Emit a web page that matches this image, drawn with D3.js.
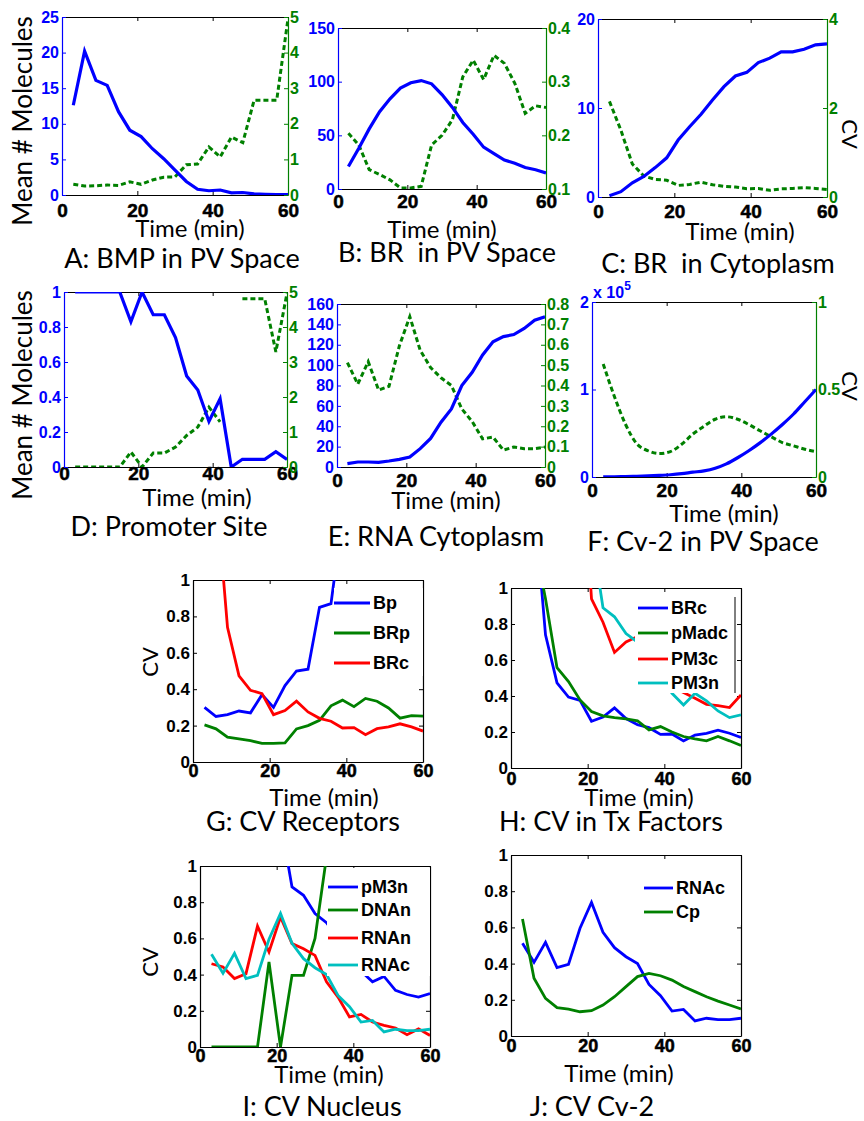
<!DOCTYPE html>
<html><head><meta charset="utf-8">
<script src="https://cdn.jsdelivr.net/npm/d3@7/dist/d3.min.js"></script>
<style>body{margin:0;background:#fff}text{white-space:pre}</style>
</head><body>
<svg id="fig" width="864" height="1121"></svg>
<script>
// ---------------- data ----------------
const time = [3,6,9,12,15,18,21,24,27,30,33,36,39,42,45,48,51,54,57,60];
const xTicks = [0,20,40,60];

// A: BMP in PV space
const bmpMean = [12.6,20.2,16.1,15.4,11.7,9.1,8.2,6.5,5.1,3.5,1.9,0.8,0.6,0.7,0.3,0.35,0.15,0.1,0.07,0.05];
const bpCV    = [0.3,0.25,0.26,0.28,0.27,0.37,0.3,0.42,0.5,0.51,0.85,0.87,1.35,1.07,1.63,1.47,2.66,2.66,2.66,4.95];
const bmpMeanTicks = [0,5,10,15,20,25];
const bmpCVTicks = [0,1,2,3,4,5];
// B: BR in PV space
const brpMean = [21,38,56,72,84,94,99,101,98,88,76,62,51,39,33,27,24,20,18,15];
const brpCV   = [0.204,0.182,0.136,0.127,0.117,0.102,0.102,0.105,0.182,0.2,0.229,0.309,0.34,0.304,0.349,0.334,0.297,0.241,0.255,0.252];
const brpMeanTicks = [0,50,100,150];
const brpCVTicks = [0.1,0.2,0.3,0.4];
// C: BR in cytoplasm
const brcMean = [0.15,0.6,1.6,2.3,3.3,4.4,6.4,7.9,9.3,10.9,12.4,13.6,14.0,15.1,15.6,16.3,16.3,16.6,17.1,17.2];
const brcCV   = [2.15,1.5,0.74,0.473,0.394,0.376,0.26,0.283,0.334,0.275,0.24,0.224,0.187,0.189,0.15,0.183,0.193,0.21,0.193,0.17];
const brcMeanTicks = [0,10,20];
const brcCVTicks = [0,2,4];
// D: promoter site
const promMean = [1,1,1,1,1,0.83,1,0.87,0.87,0.74,0.52,0.44,0.26,0.39,0,0.044,0.044,0.044,0.087,0.043];
const promCV   = [0,0,0,0,0,0.43,0,0.4,0.4,0.57,0.9,1.14,1.71,1.29,null,4.81,4.81,4.81,3.29,4.97];
const promMeanTicks = [0,0.2,0.4,0.6,0.8,1];
const promCVTicks = [0,1,2,3,4,5];
// E: RNA cytoplasm
const rnacMean = [3.3,4.9,4.9,4.6,5.9,7.5,9.8,18,28,44,57,80,93,110,123,128,130,136,144,147.5];
const rnacCV   = [0.512,0.407,0.517,0.378,0.396,0.595,0.738,0.573,0.488,0.438,0.4,0.285,0.223,0.138,0.147,0.083,0.098,0.09,0.09,0.098];
const rnacMeanTicks = [0,20,40,60,80,100,120,140,160];
const rnacCVTicks = [0,0.1,0.2,0.3,0.4,0.5,0.6,0.7,0.8];
// F: Cv-2 in PV space (mean in units of 1e5)
const cv2Mean = [0.002,0.003,0.005,0.008,0.012,0.018,0.026,0.038,0.055,0.07,0.1,0.15,0.22,0.3,0.39,0.49,0.6,0.72,0.86,1.0];
const cv2CVsmooth = [0.646,0.46,0.3,0.19,0.15,0.134,0.145,0.187,0.245,0.29,0.33,0.344,0.33,0.3,0.264,0.23,0.197,0.178,0.159,0.145];
const cv2MeanTicks = [0,1,2];
const cv2CVTicks = [0,0.5,1];
// CV panels
const cvTicks = [0,0.2,0.4,0.6,0.8,1];
const pMadcCV = [2.0,1.27,0.94,0.557,0.48,0.378,0.314,0.29,0.28,0.273,0.262,0.212,0.23,0.2,0.175,0.162,0.151,0.175,0.151,0.125];
const pm3cCV  = [null,null,null,null,null,1.93,0.94,0.81,0.642,0.7,0.73,0.6,0.5,0.45,0.42,0.387,0.354,0.347,0.336,0.406];
const pm3nCV  = [null,null,null,null,null,null,1.31,0.89,0.84,0.747,0.7,0.62,0.52,0.415,0.35,0.415,0.373,0.317,0.28,0.295];
const pM3nNucCV = [null,null,null,null,null,null,1.25,0.884,0.838,0.737,0.687,0.6,0.5,0.42,0.36,0.39,0.313,0.29,0.276,0.295];
const dnanCV  = [0,0,0,0,0,0.47,0,0.396,0.396,0.6,1.05,null,null,null,null,null,null,null,null,null];
const rnanCV  = [0.46,0.442,0.378,0.405,0.668,0.525,0.718,0.571,0.543,0.506,0.36,0.276,0.166,0.18,0.138,0.12,0.105,0.068,0.1,0.064];
const cpCV    = [0.646,0.319,0.208,0.157,0.149,0.134,0.14,0.171,0.217,0.273,0.328,0.346,0.333,0.309,0.273,0.245,0.217,0.193,0.171,0.149];
const legendG = ['Bp','BRp','BRc'];
const legendH = ['BRc','pMadc','PM3c','PM3n'];
const legendI = ['pM3n','DNAn','RNAn','RNAc'];
const legendJ = ['RNAc','Cp'];

// ---------------- drawing ----------------
const svg = d3.select('#fig');
const LBL = "Lato, 'Open Sans', sans-serif";
const TK = "'Liberation Sans', Arial, sans-serif";
const BLUE = '#0000ff', GREEN = '#008000', RED = '#ff0000', CYAN = '#00bfbf';
const fmt = d => String(d);

function txt(parent, x, y, s, o) {
  const t = parent.append('text').attr('x', x).attr('y', y).text(s)
    .attr('font-family', o.family || LBL).attr('font-size', o.size)
    .attr('font-weight', o.weight || 'normal').attr('fill', o.fill || '#000')
    .attr('text-anchor', o.anchor || 'middle');
  if (o.rotate) t.attr('transform', `rotate(${o.rotate},${x},${y})`);
  return t;
}

function styleAxis(ag, color, size, heavy) {
  ag.attr('color', color).attr('font-family', TK).attr('font-size', size).attr('font-weight', 'bold');
  ag.selectAll('text').attr('fill', color);
  if (heavy) ag.selectAll('text').attr('stroke', color).attr('stroke-width', 0.5);
  ag.selectAll('.tick line').attr('stroke-width', 1);
  ag.select('.domain').attr('stroke-width', 1.2);
}

function frameAxes(g, p, x, yl, lColor, lTicks, lSize, xSize) {
  const top = g.append('g').attr('transform', `translate(0,${p.y0})`)
    .call(d3.axisTop(x).tickValues(xTicks).tickSizeInner(-4).tickSizeOuter(0).tickFormat(''));
  styleAxis(top, '#000', 10);
  const bot = g.append('g').attr('transform', `translate(0,${p.y1})`)
    .call(d3.axisBottom(x).tickValues(xTicks).tickSizeInner(-4).tickSizeOuter(0).tickFormat(fmt));
  styleAxis(bot, '#000', xSize, true);
  bot.selectAll('text').attr('dy', null).attr('y', p.xtb - p.y1);
  const left = g.append('g').attr('transform', `translate(${p.x0},0)`)
    .call(d3.axisLeft(yl).tickValues(lTicks).tickSizeInner(-4).tickSizeOuter(0).tickPadding(3).tickFormat(fmt));
  styleAxis(left, lColor, lSize);
  return {top, bot, left};
}

function common(g, p) {
  txt(g, p.timeX, p.timeY, 'Time (min)', {size: 24});
  txt(g, p.titleX, p.titleY, p.title, {size: 27});
}

function clip(p) {
  const id = 'clip-' + p.key;
  svg.append('clipPath').attr('id', id).append('rect')
    .attr('x', p.x0).attr('y', p.y0).attr('width', p.x1 - p.x0).attr('height', p.y1 - p.y0);
  return `url(#${id})`;
}

function dualPanel(p) {
  const g = svg.append('g');
  const x = d3.scaleLinear().domain([0, 60]).range([p.x0, p.x1]);
  const yl = d3.scaleLinear().domain([p.lTicks[0], p.lTicks[p.lTicks.length - 1]]).range([p.y1, p.y0]);
  const yr = d3.scaleLinear().domain([p.rTicks[0], p.rTicks[p.rTicks.length - 1]]).range([p.y1, p.y0]);
  frameAxes(g, p, x, yl, BLUE, p.lTicks, 16, 19);
  const right = g.append('g').attr('transform', `translate(${p.x1},0)`)
    .call(d3.axisRight(yr).tickValues(p.rTicks).tickSizeInner(-4).tickSizeOuter(0).tickPadding(2).tickFormat(fmt));
  styleAxis(right, GREEN, 16);
  const cp = clip(p);
  const curve = p.smooth ? d3.curveMonotoneX : d3.curveLinear;
  const mk = ys => d3.line().defined(d => d[1] != null).x(d => x(d[0])).y(d => ys(d[1])).curve(curve);
  const pts = arr => time.map((t, i) => [t, arr[i]]);
  g.append('path').datum(pts(p.cv)).attr('d', mk(yr)).attr('fill', 'none')
    .attr('stroke', GREEN).attr('stroke-width', 3).attr('stroke-dasharray', '5,3').attr('clip-path', cp);
  g.append('path').datum(pts(p.mean)).attr('d', mk(yl)).attr('fill', 'none')
    .attr('stroke', BLUE).attr('stroke-width', 3.2).attr('clip-path', cp);
  common(g, p);
  if (p.ylab) txt(g, 32, p.ylabY, 'Mean # Molecules', {size: 26, rotate: -90});
  if (p.cvLab) txt(g, p.cvLab.x, p.cvLab.y, 'CV', {size: 22, rotate: 90});
  if (p.exp) {
    const e = txt(g, p.x0 + 1, p.y0 - 4, 'x 10', {size: 16, weight: 'bold', fill: BLUE, family: TK, anchor: 'start'});
    e.append('tspan').attr('dy', -8).attr('font-size', 12).text('5');
  }
}

function cvPanel(p) {
  const g = svg.append('g');
  const x = d3.scaleLinear().domain([0, 60]).range([p.x0, p.x1]);
  const y = d3.scaleLinear().domain([0, 1]).range([p.y1, p.y0]);
  frameAxes(g, p, x, y, '#000', cvTicks, 17, 18);
  const right = g.append('g').attr('transform', `translate(${p.x1},0)`)
    .call(d3.axisRight(y).tickValues(cvTicks).tickSizeInner(-4).tickSizeOuter(0).tickFormat(''));
  styleAxis(right, '#000', 10);
  const cp = clip(p);
  const line = d3.line().defined(d => d[1] != null).x(d => x(d[0])).y(d => y(d[1]));
  p.series.forEach(s => {
    g.append('path').datum(time.map((t, i) => [t, s.v[i]])).attr('d', line).attr('fill', 'none')
      .attr('stroke', s.c).attr('stroke-width', 2.8).attr('clip-path', cp);
  });
  const L = p.legend;
  g.append('rect').attr('x', L.bx0).attr('y', L.by0).attr('width', L.bx1 - L.bx0).attr('height', L.by1 - L.by0).attr('fill', '#fff');
  if (L.border) g.append('line').attr('x1', L.bx1).attr('x2', L.bx1).attr('y1', L.by0 + 5).attr('y2', L.by1).attr('stroke', '#000').attr('stroke-width', 1);
  p.series.forEach((s, i) => {
    g.append('line').attr('x1', L.lx0).attr('x2', L.lx1).attr('y1', L.ys[i]).attr('y2', L.ys[i])
      .attr('stroke', s.c).attr('stroke-width', 2.8);
    txt(g, L.tx, L.ys[i], p.names[i], {size: 18, weight: 'bold', family: TK, anchor: 'start'}).attr('dy', '0.36em');
  });
  common(g, p);
  if (p.cvLab) txt(g, p.cvLab.x, p.cvLab.y, 'CV', {size: 22, rotate: -90});
}

dualPanel({key: 'A', x0: 62, x1: 288, y0: 17, y1: 195, mean: bmpMean, cv: bpCV, lTicks: bmpMeanTicks, rTicks: bmpCVTicks,
  xtb: 217, timeX: 190, timeY: 237, title: 'A: BMP in PV Space', titleX: 182, titleY: 268, ylab: true, ylabY: 121});
dualPanel({key: 'B', x0: 338, x1: 546, y0: 28, y1: 189, mean: brpMean, cv: brpCV, lTicks: brpMeanTicks, rTicks: brpCVTicks,
  xtb: 208, timeX: 442, timeY: 238, title: 'B: BR  in PV Space', titleX: 447, titleY: 262});
dualPanel({key: 'C', x0: 598, x1: 827, y0: 19, y1: 197, mean: brcMean, cv: brcCV, lTicks: brcMeanTicks, rTicks: brcCVTicks,
  xtb: 218, timeX: 740, timeY: 240, title: 'C: BR  in Cytoplasm', titleX: 718, titleY: 273, cvLab: {x: 842, y: 134}});
dualPanel({key: 'D', x0: 64, x1: 287, y0: 292, y1: 467, mean: promMean, cv: promCV, lTicks: promMeanTicks, rTicks: promCVTicks,
  xtb: 480, timeX: 197, timeY: 506, title: 'D: Promoter Site', titleX: 169, titleY: 536, ylab: true, ylabY: 395});
dualPanel({key: 'E', x0: 337, x1: 545, y0: 304, y1: 467, mean: rnacMean, cv: rnacCV, lTicks: rnacMeanTicks, rTicks: rnacCVTicks,
  xtb: 487, timeX: 446, timeY: 509, title: 'E: RNA Cytoplasm', titleX: 436, titleY: 546});
dualPanel({key: 'F', x0: 592, x1: 816, y0: 302, y1: 477, mean: cv2Mean, cv: cv2CVsmooth, lTicks: cv2MeanTicks, rTicks: cv2CVTicks,
  xtb: 497, timeX: 724, timeY: 522, title: 'F: Cv-2 in PV Space', titleX: 703, titleY: 551, cvLab: {x: 842, y: 386}, exp: true, smooth: true});

cvPanel({key: 'G', x0: 193, x1: 423, y0: 580, y1: 762, xtb: 777, timeX: 324, timeY: 806, title: 'G: CV Receptors', titleX: 303, titleY: 831,
  cvLab: {x: 158, y: 662}, names: legendG,
  series: [{v: bpCV, c: BLUE}, {v: brpCV, c: GREEN}, {v: brcCV, c: RED}],
  legend: {bx0: 334, bx1: 423, by0: 588, by1: 676, lx0: 334, lx1: 370, tx: 373, ys: [603, 633, 663]}});
cvPanel({key: 'H', x0: 511, x1: 741, y0: 588, y1: 768, xtb: 785, timeX: 639, timeY: 806, title: 'H: CV in Tx Factors', titleX: 611, titleY: 831,
  names: legendH,
  series: [{v: brcCV, c: BLUE}, {v: pMadcCV, c: GREEN}, {v: pm3cCV, c: RED}, {v: pm3nCV, c: CYAN}],
  legend: {bx0: 635, bx1: 735, by0: 592, by1: 693, lx0: 638, lx1: 668, tx: 671, ys: [608, 633, 659, 683], border: true}});
cvPanel({key: 'I', x0: 200, x1: 430, y0: 866, y1: 1047, xtb: 1062, timeX: 329, timeY: 1083, title: 'I: CV Nucleus', titleX: 322, titleY: 1116,
  cvLab: {x: 158, y: 962}, names: legendI,
  series: [{v: pM3nNucCV, c: BLUE}, {v: dnanCV, c: GREEN}, {v: rnanCV, c: RED}, {v: rnacCV, c: CYAN}],
  legend: {bx0: 327, bx1: 430, by0: 868, by1: 976, lx0: 328, lx1: 358, tx: 361, ys: [887, 910, 938, 965]}});
cvPanel({key: 'J', x0: 511, x1: 741, y0: 855, y1: 1036, xtb: 1052, timeX: 619, timeY: 1082, title: 'J: CV Cv-2', titleX: 592, titleY: 1116,
  names: legendJ,
  series: [{v: rnacCV, c: BLUE}, {v: cpCV, c: GREEN}],
  legend: {bx0: 640, bx1: 741, by0: 870, by1: 925, lx0: 644, lx1: 673, tx: 676, ys: [888, 912]}});
</script>
</body></html>
